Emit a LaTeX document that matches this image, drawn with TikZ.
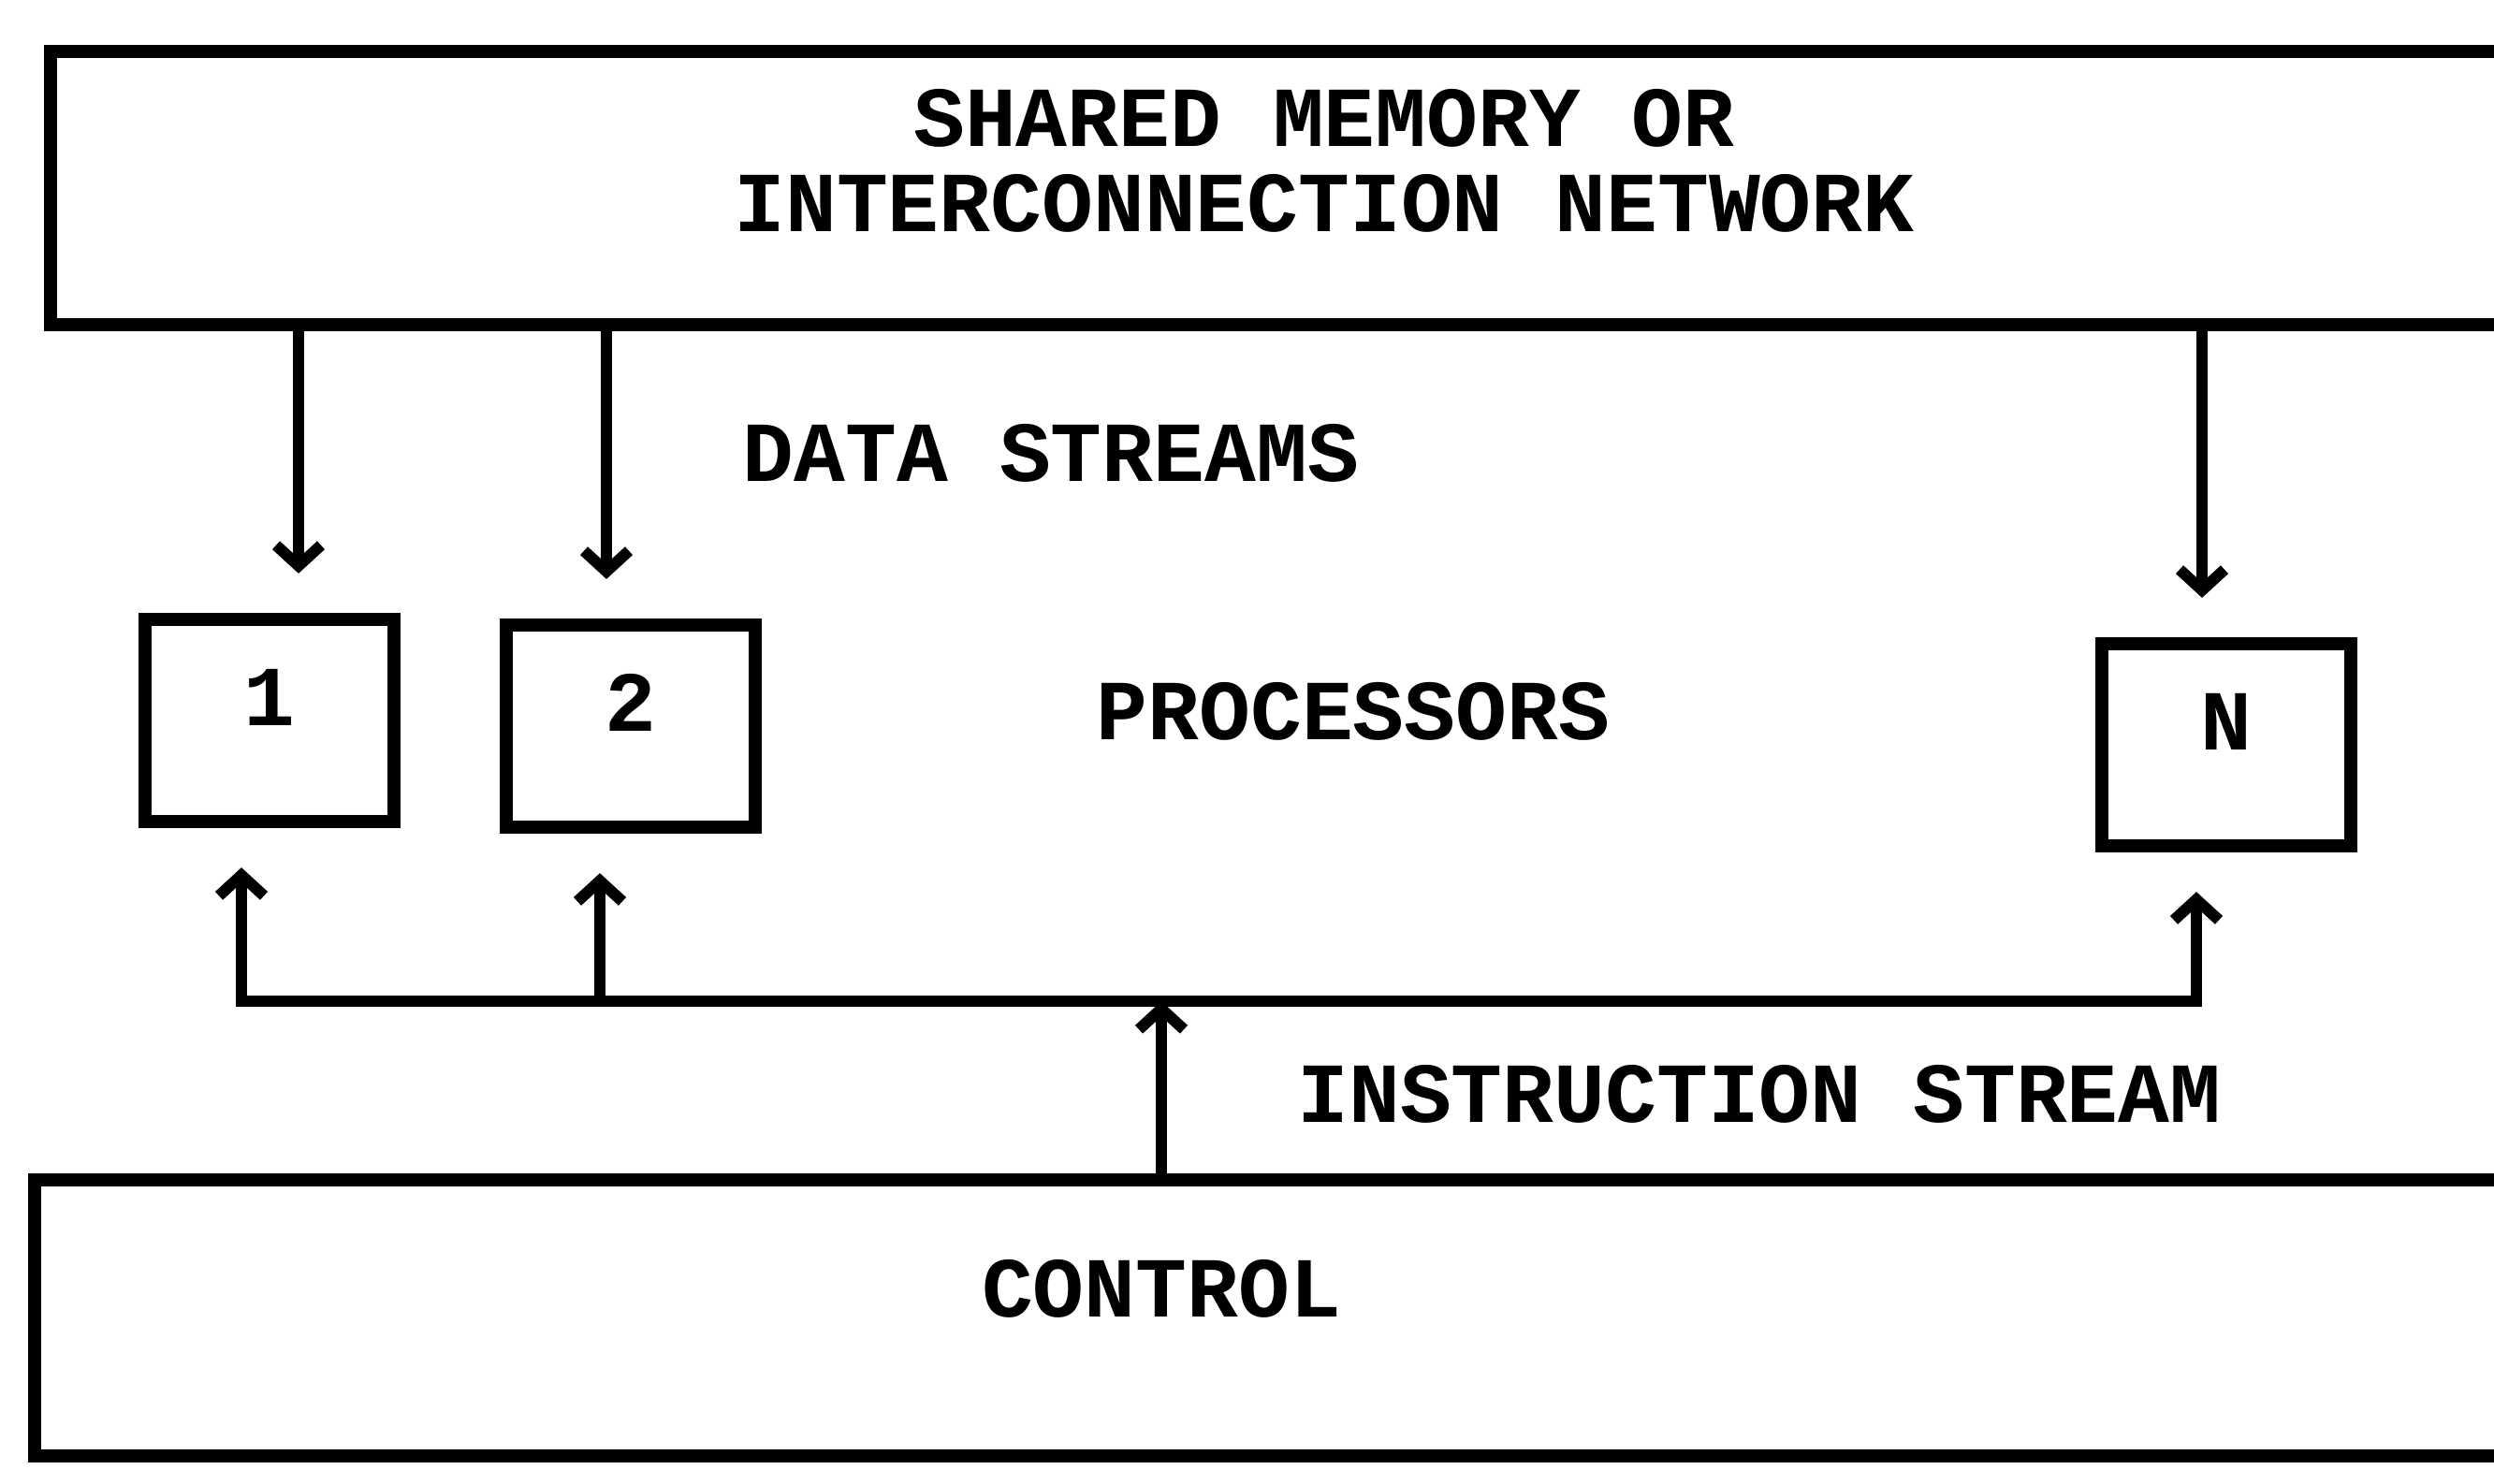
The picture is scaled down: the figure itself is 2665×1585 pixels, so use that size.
\documentclass[tikz,border=0pt]{standalone}
\usepackage{fontspec}
\setmonofont{Liberation Mono}
\usepackage{tikz}
\usetikzlibrary{arrows.meta,positioning,calc}
\tikzset{simd layout/.style={%
    y=-0.1mm,%
    x=0.1mm,%
    line width=1.2mm,%
    >={Straight Barb[width=4.8mm,length=2.2mm]},%
    every node/.style={%
        font=\ttfamily\bfseries\fontsize{26}{26}\selectfont, inner sep=0pt%
    }%
}}
\tikzset{unit box/.style={%
    draw, rectangle, line width=1.4mm, minimum width=26.6mm, minimum height=21.6mm,
    text height=17pt, text depth=14pt
}}
\tikzset{wide box/.style={%
    draw, rectangle, line width=1.4mm, minimum height=29.2mm
}}
\tikzset{stream/.style={%
    ->, shorten >=12pt
}}

\begin{document}
\begin{tikzpicture}[simd layout]
    \useasboundingbox (0,0) rectangle (2665,1585);
    \clip (0,0) rectangle (2665,1585);

    \node[wide box, minimum width=266.6mm] (net) at (1387,201) {};
    \node[wide box, minimum width=268.3mm, minimum height=29.5mm] (ctrl) at (1378,1408) {};

    \foreach \n/\x/\y in {1/288/770, 2/674/776, N/2379/796} {
        \node[unit box] (p\n) at (\x,\y) {\n};
    }

    \node[align=center] (netlabel) at (1415,172) {SHARED MEMORY OR\\INTERCONNECTION NETWORK};
    \node (datalabel) at (1123,484) {DATA STREAMS};
    \node (proclabel) at (1446,760) {PROCESSORS};
    \node (instrlabel) at (1880,1169) {INSTRUCTION STREAM};
    \node (ctrllabel) at (1241,1377) {CONTROL};

    % data streams
    \coordinate (d1) at (319,0);
    \coordinate (d2) at (648,0);
    \coordinate (dN) at (2353,0);
    \draw[stream] (net.south -| d1) -- (p1.north -| d1);
    \draw[stream] (net.south -| d2) -- (p2.north -| d2);
    \draw[stream] (net.south -| dN) -- (pN.north -| dN);

    % instruction stream
    \coordinate (bus1) at (258,1070);
    \coordinate (bus2) at (641,1070);
    \coordinate (busc) at (1241,1070);
    \coordinate (busN) at (2347,1070);
    \draw[<->, shorten <=12pt, shorten >=12pt] (p1.south -| bus1) -- (bus1) -- (busN) -- (pN.south -| busN);
    \draw[stream] (bus2) -- (p2.south -| bus2);
    \draw[->] (ctrl.north -| busc) -- (busc);
\end{tikzpicture}
\end{document}
